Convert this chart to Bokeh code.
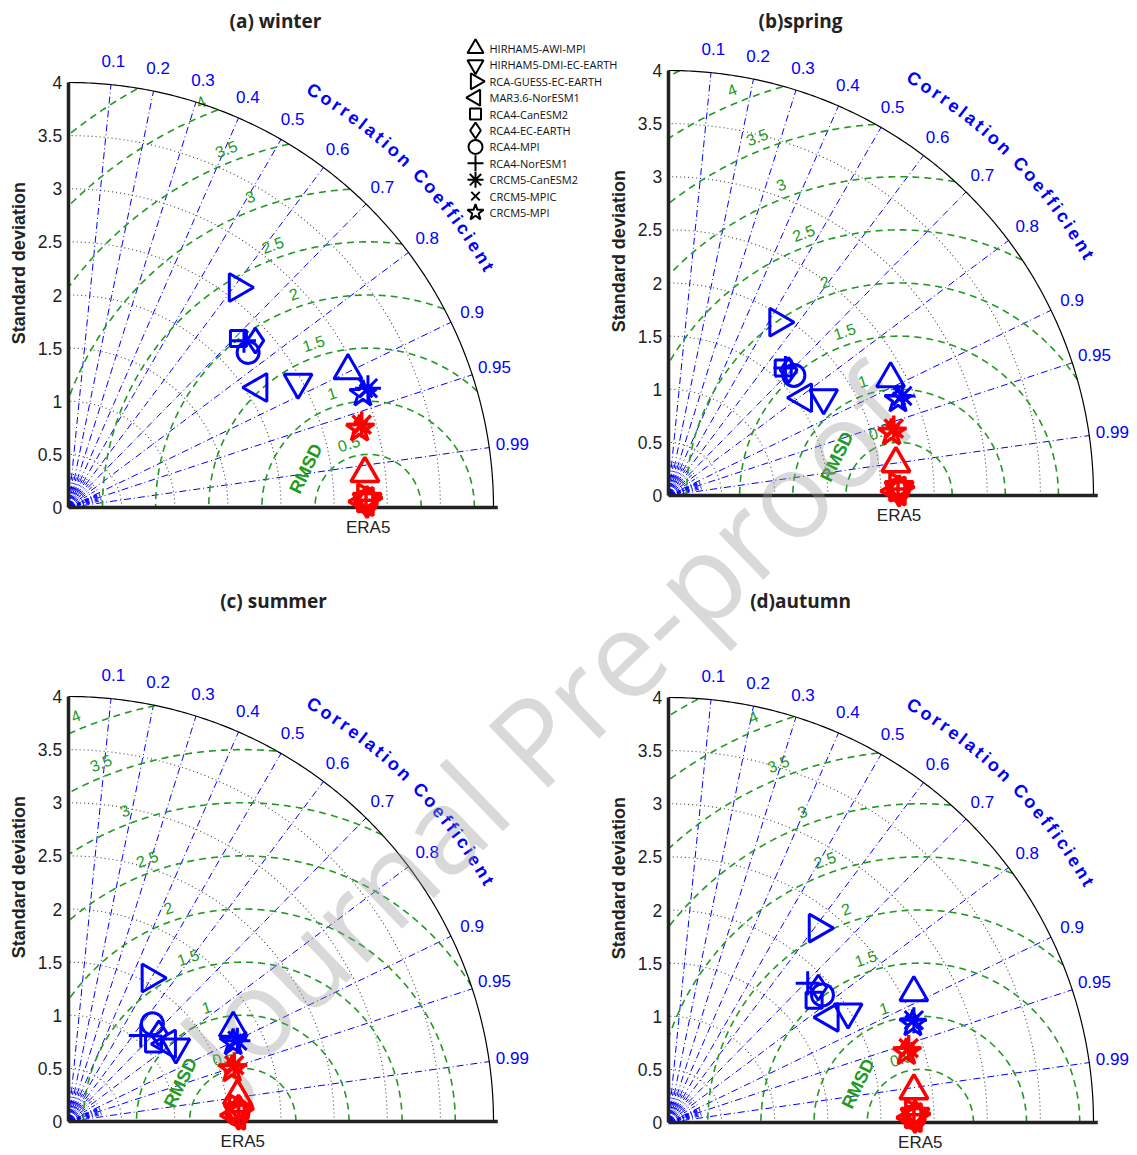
import numpy as np
from bokeh.plotting import figure
from bokeh.models import Range1d, ColumnDataSource
from bokeh.core.properties import value
from bokeh.embed import file_html
from bokeh.resources import INLINE

# ---------------- data ----------------
models = ["HIRHAM5-AWI-MPI", "HIRHAM5-DMI-EC-EARTH", "RCA-GUESS-EC-EARTH", "MAR3.6-NorESM1",
          "RCA4-CanESM2", "RCA4-EC-EARTH", "RCA4-MPI", "RCA4-NorESM1",
          "CRCM5-CanESM2", "CRCM5-MPIC", "CRCM5-MPI"]
model_markers = ["triangle", "inverted_triangle", "triangle", "triangle", "square", "diamond",
                 "circle", "cross", "asterisk", "x", "star"]
marker_rot_deg = [0, 0, -90, 90, 0, 0, 0, 0, 0, 0, 0]

titles = ["(a) winter", "(b)spring", "(c) summer", "(d)autumn"]
ref_name = "ERA5"
ref_std = [2.82, 2.17, 1.64, 2.37]

# blue: raw models; red: second set
std_blue_winter = [2.929, 2.461, 2.610, 2.117, 2.256, 2.358, 2.233, 2.278, 3.034, 3.008, 2.970]
corr_blue_winter = [0.898, 0.878, 0.609, 0.846, 0.709, 0.746, 0.757, 0.725, 0.929, 0.931, 0.933]
std_red_winter = [2.808, 2.811, 2.801, 2.790, 2.801, 2.811, 2.801, 2.801, 2.868, 2.853, 2.838]
corr_red_winter = [0.9935, 0.9998, 0.9995, 0.9998, 0.9997, 0.9996, 0.9998, 0.9997, 0.9623, 0.9639, 0.9654]

std_blue_spring = [2.362, 1.726, 1.928, 1.568, 1.614, 1.634, 1.634, 1.628, 2.392, 2.353, 2.340]
corr_blue_spring = [0.885, 0.846, 0.534, 0.810, 0.669, 0.692, 0.722, 0.676, 0.920, 0.922, 0.923]
std_red_spring = [2.161, 2.171, 2.162, 2.150, 2.161, 2.171, 2.161, 2.161, 2.212, 2.196, 2.181]
corr_red_spring = [0.9903, 0.9997, 0.9993, 0.9998, 0.9996, 0.9995, 0.9997, 0.9996, 0.9586, 0.9607, 0.9627]

std_blue_summer = [1.782, 1.229, 1.554, 1.182, 1.083, 1.188, 1.213, 1.058, 1.762, 1.744, 1.718]
corr_blue_summer = [0.870, 0.822, 0.495, 0.787, 0.739, 0.716, 0.651, 0.643, 0.902, 0.900, 0.902]
std_red_summer = [1.608, 1.602, 1.595, 1.581, 1.593, 1.605, 1.592, 1.603, 1.648, 1.632, 1.616]
corr_red_summer = [0.9888, 0.9988, 0.9972, 0.9993, 0.9980, 0.9967, 0.9990, 0.9984, 0.9468, 0.9499, 0.9529]

std_blue_autumn = [2.612, 1.984, 2.304, 1.814, 1.789, 1.898, 1.882, 1.853, 2.502, 2.479, 2.481]
corr_blue_autumn = [0.884, 0.852, 0.608, 0.838, 0.766, 0.743, 0.770, 0.707, 0.923, 0.924, 0.927]
std_red_autumn = [2.329, 2.321, 2.311, 2.301, 2.311, 2.322, 2.311, 2.311, 2.366, 2.351, 2.335]
corr_red_autumn = [0.9917, 0.9997, 0.9994, 0.9998, 0.9995, 0.9993, 0.9998, 0.9995, 0.9552, 0.9572, 0.9592]

std_ticks = [0, 0.5, 1, 1.5, 2, 2.5, 3, 3.5, 4]
std_tick_labels = ["0", "0.5", "1", "1.5", "2", "2.5", "3", "3.5", "4"]
corr_ticks = [0.1, 0.2, 0.3, 0.4, 0.5, 0.6, 0.7, 0.8, 0.9, 0.95, 0.99]
corr_tick_labels = ["0.1", "0.2", "0.3", "0.4", "0.5", "0.6", "0.7", "0.8", "0.9", "0.95", "0.99"]
corr_minor = [0.05, 0.15, 0.25, 0.35, 0.45, 0.55, 0.65, 0.75, 0.85, 0.91, 0.92, 0.93, 0.94, 0.96, 0.97, 0.98]
std_arcs = [0.5, 1.0, 1.5, 2.0, 2.5, 3.0, 3.5]
rmsd_levels = [0.5, 1.0, 1.5, 2.0, 2.5, 3.0, 3.5, 4.0, 4.5]
rmsd_labels = ["0.5", "1", "1.5", "2", "2.5", "3", "3.5", "4", "4.5"]
std_max = 4.0

blue_sets = [(std_blue_winter, corr_blue_winter), (std_blue_spring, corr_blue_spring),
             (std_blue_summer, corr_blue_summer), (std_blue_autumn, corr_blue_autumn)]
red_sets = [(std_red_winter, corr_red_winter), (std_red_spring, corr_red_spring),
            (std_red_summer, corr_red_summer), (std_red_autumn, corr_red_autumn)]

# ---------------- layout / style ----------------
W, H = 1137, 1155
OFF = 0   # page offset of the canvas
S = 106.25  # px per std unit
panel_origin_px = [(68, 507), (668, 495), (68, 1121), (668, 1122)]
title_px = [(275, 20), (800, 20), (273, 600), (800, 600)]
marker_size = [28, 28, 28, 28, 16, 25, 22, 24, 26, 18, 28]
legend_size = [16, 16, 16, 16, 11, 16, 14, 16, 16, 12, 17]

BLUE = "#0000ff"
GREEN = "#229922"
SANS = value("Liberation Sans")

p = figure(width=W, height=H, x_range=Range1d(OFF, OFF + W), y_range=Range1d(-(OFF + H), -OFF),
           output_backend="svg", toolbar_location=None, min_border=0,
           x_axis_location=None, y_axis_location=None)
p.outline_line_color = None
p.grid.visible = False
p.background_fill_color = "white"

xr, yr = {}, {}
for k, (ox, oy) in enumerate(panel_origin_px):
    fx = ox - OFF
    fy0 = (OFF + H) - oy
    xr[f"x{k}"] = Range1d(-fx / S, (W - fx) / S)
    yr[f"y{k}"] = Range1d(-fy0 / S, (H - fy0) / S)
p.extra_x_ranges = xr
p.extra_y_ranges = yr

# character widths for the curved label (px at 18px bold)
cw = {"C": 13, "o": 11, "r": 7, "e": 10, "l": 5, "a": 10, "t": 6, "i": 5, "n": 11, " ": 5, "f": 6, "c": 10}
curved = "Correlation Coefficient"

for k in range(4):
    kw = dict(x_range_name=f"x{k}", y_range_name=f"y{k}")
    R0 = ref_std[k]
    th = np.linspace(0, np.pi / 2, 200)

    # std dotted arcs
    p.multi_line(xs=[list(r * np.cos(th)) for r in std_arcs], ys=[list(r * np.sin(th)) for r in std_arcs],
                 line_color="#444444", line_dash="1 3", line_width=1.1, **kw)
    # radial correlation lines
    ang = [np.arccos(c) for c in corr_ticks]
    p.multi_line(xs=[[0, std_max * np.cos(a)] for a in ang], ys=[[0, std_max * np.sin(a)] for a in ang],
                 line_color=BLUE, line_dash="7 3 1 3", line_width=1, **kw)
    angm = [np.arccos(c) for c in corr_minor]
    p.multi_line(xs=[[0, 0.32 * np.cos(a)] for a in angm], ys=[[0, 0.32 * np.sin(a)] for a in angm],
                 line_color=BLUE, line_dash="4 2 1 2", line_width=1, **kw)
    p.wedge(x=[0], y=[0], radius=0.055, start_angle=0, end_angle=np.pi / 2,
            fill_color=BLUE, line_color=None, **kw)

    # RMSD circles clipped to quadrant
    segx, segy = [], []
    phi = np.linspace(0, np.pi, 900)
    for d in rmsd_levels:
        cx = R0 + d * np.cos(phi)
        cy = d * np.sin(phi)
        ok = (cx >= 0) & (cx ** 2 + cy ** 2 <= std_max ** 2)
        run_x, run_y = [], []
        for xx, yy, o in zip(cx, cy, ok):
            if o:
                run_x.append(xx); run_y.append(yy)
            elif run_x:
                segx.append(run_x); segy.append(run_y); run_x, run_y = [], []
        if run_x:
            segx.append(run_x); segy.append(run_y)
    p.multi_line(xs=segx, ys=segy, line_color=GREEN, line_dash="7 5", line_width=1.6, **kw)

    # RMSD labels
    lx, ly, lt, la = [], [], [], []
    for d, t in zip(rmsd_levels, rmsd_labels):
        a = np.radians(106 + 1.6 * d)
        rr = d + 0.13
        x_ = R0 + rr * np.cos(a)
        y_ = rr * np.sin(a)
        if x_ > 0 and np.hypot(x_, y_) < 4.03:
            lx.append(x_); ly.append(y_); lt.append(t); la.append(a - np.pi / 2)
    p.text(x=lx, y=ly, text=lt, angle=la, text_color=GREEN, text_font=SANS, text_font_size="16px",
           text_align="center", text_baseline="middle", **kw)
    a = np.radians(148)
    p.text(x=[R0 + 0.69 * np.cos(a)], y=[0.69 * np.sin(a)], text=["RMSD"], angle=np.radians(64),
           text_color=GREEN, text_font=SANS, text_font_size="18px", text_font_style="bold",
           text_align="center", text_baseline="middle", **kw)

    # outer arc and axes
    p.line(x=list(std_max * np.cos(th)), y=list(std_max * np.sin(th)), line_color="black", line_width=1.2, **kw)
    p.line(x=[0, 0], y=[0, std_max], line_color="#222222", line_width=3.5, **kw)
    p.line(x=[0, std_max + 0.04], y=[0, 0], line_color="#222222", line_width=3.5, **kw)

    # std tick labels
    p.text(x=[-0.06] * len(std_ticks), y=std_ticks, text=std_tick_labels, text_font=SANS,
           text_font_size="17.5px", text_color="#222222", text_align="right", text_baseline="middle", **kw)
    p.text(x=[-0.47], y=[2.3], text=["Standard deviation"], angle=np.pi / 2, text_font=SANS,
           text_font_size="18px", text_font_style="bold", text_color="#222222",
           text_align="center", text_baseline="middle", **kw)
    p.text(x=[R0], y=[-0.19], text=[ref_name], text_font=SANS, text_font_size="17px",
           text_color="#222222", text_align="center", text_baseline="middle", **kw)

    # correlation tick labels
    p.text(x=[4.22 * np.cos(a_) for a_ in ang], y=[4.22 * np.sin(a_) for a_ in ang], text=corr_tick_labels,
           text_font=SANS, text_font_size="17px", text_color=BLUE, text_align="center",
           text_baseline="middle", **kw)
    # curved title
    Rpx = 4.55 * S
    s_pos, s = [], 0.0
    for i, ch in enumerate(curved):
        if i > 0:
            s += (cw[curved[i - 1]] + cw[ch]) / 2 + 3
        s_pos.append(s)
    th_c = [np.radians(59.5) - sp / Rpx for sp in s_pos]
    p.text(x=[4.55 * np.cos(t_) for t_ in th_c], y=[4.55 * np.sin(t_) for t_ in th_c], text=list(curved),
           angle=[t_ - np.pi / 2 for t_ in th_c], text_font=SANS, text_font_size="18px",
           text_font_style="bold", text_color=BLUE, text_align="center", text_baseline="middle", **kw)

# watermark
p.text(x=[545], y=[-725], text=["Journal Pre-proof"], angle=np.radians(44), text_font=value("Open Sans"),
       text_font_size="120px", text_color="#9a9a9a", text_alpha=0.38, text_align="center",
       text_baseline="middle")

# markers
for k in range(4):
    kw = dict(x_range_name=f"x{k}", y_range_name=f"y{k}")
    p.scatter(x=[0 + ref_std[k]], y=[0], marker="circle", size=4, fill_color=BLUE, line_color=BLUE, **kw)
    for (sd, cr), col, lw in ((blue_sets[k], BLUE, 3), (red_sets[k], "#ff0000", 3.5)):
        sd = np.array(sd); cr = np.array(cr)
        a_ = np.arccos(cr)
        src = ColumnDataSource(dict(x=sd * np.cos(a_), y=sd * np.sin(a_), m=model_markers,
                                    sz=marker_size, an=[np.radians(v) for v in marker_rot_deg]))
        p.scatter(x="x", y="y", marker="m", size="sz", angle="an", source=src, line_color=col,
                  fill_color=None, line_width=lw, **kw)

# legend (panel a)
ly0, dy = 48, 16.4
src = ColumnDataSource(dict(x=[475] * len(models), y=[-(ly0 + dy * i) for i in range(len(models))],
                            m=model_markers, sz=legend_size, an=[np.radians(v) for v in marker_rot_deg]))
p.scatter(x="x", y="y", marker="m", size="sz", angle="an", source=src, line_color="black",
          fill_color=None, line_width=2)
p.text(x=[489] * len(models), y=[-(ly0 + dy * i) for i in range(len(models))], text=models,
       text_font=value("Open Sans"), text_font_size="11px", text_color="#111111",
       text_align="left", text_baseline="middle")

# titles
p.text(x=[t[0] for t in title_px], y=[-t[1] for t in title_px], text=titles, text_font=value("Open Sans"),
       text_font_size="19px", text_font_style="bold", text_color="#222222", text_align="center",
       text_baseline="middle")

open("out.html", "w").write(file_html(p, INLINE))
